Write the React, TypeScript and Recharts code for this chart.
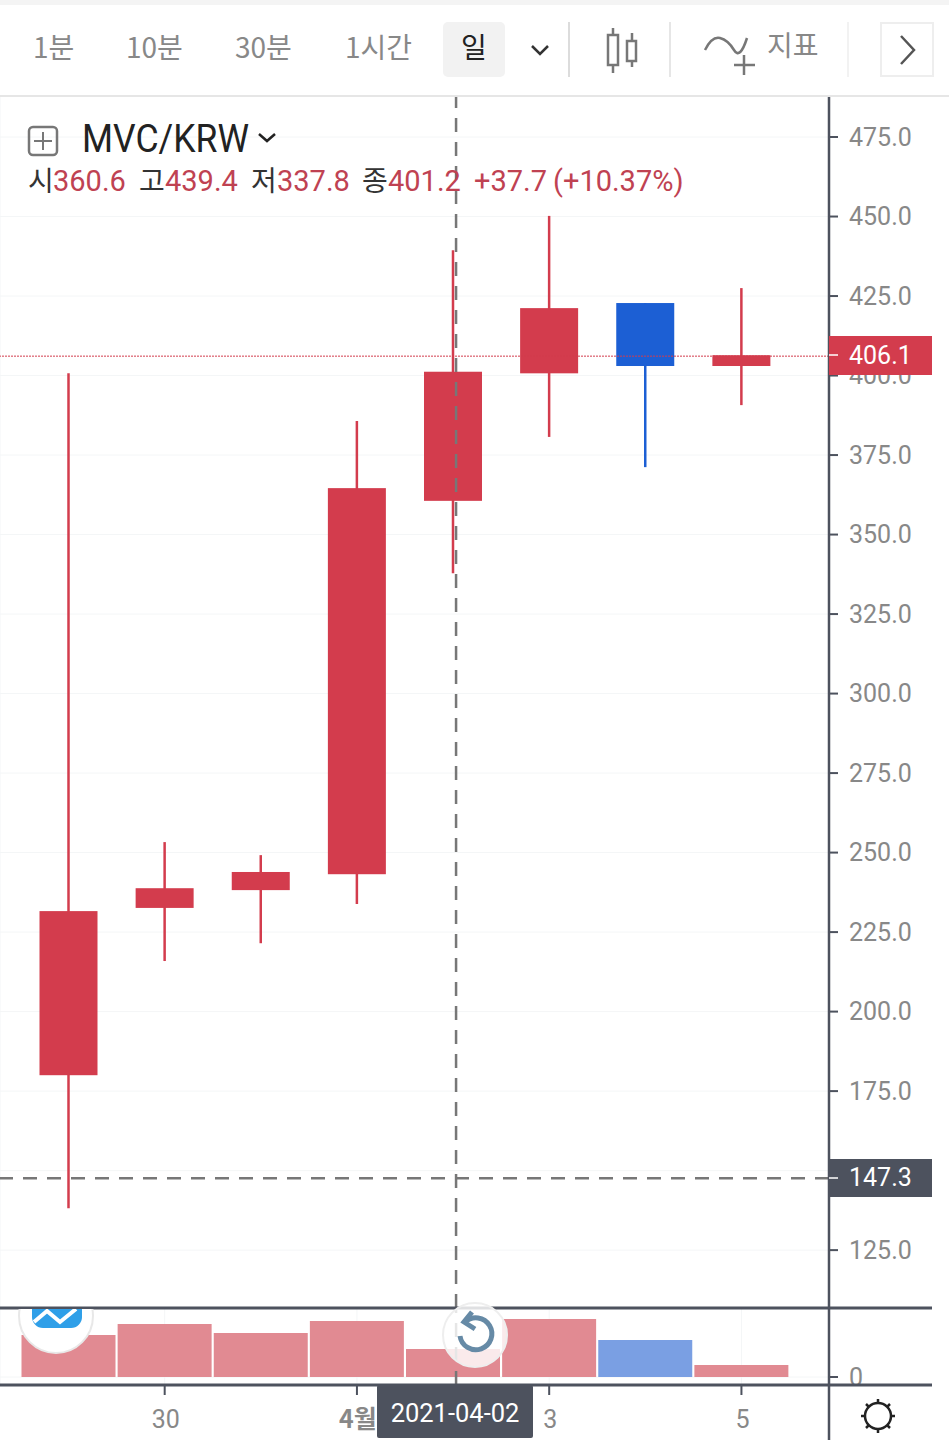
import { Bar, CartesianGrid, Cell, ComposedChart, ReferenceLine, XAxis, YAxis } from "recharts";

const DATES = ["03-29", "03-30", "03-31", "04-01", "04-02", "04-03", "04-04", "04-05"];
const OPENS = [180.0, 232.6, 238.2, 243.2, 360.6, 400.7, 422.8, 403.0];
const HIGHS = [400.7, 253.3, 249.2, 385.7, 439.4, 450.2, 422.8, 427.5];
const LOWS = [138.2, 215.9, 221.5, 233.8, 337.8, 380.7, 371.2, 390.7];
const CLOSES = [231.6, 238.8, 243.9, 364.6, 401.2, 421.2, 403.0, 406.4];
const VOLUMES = [42, 53, 44, 56, 28, 58, 37, 12];
const PRICE_TICKS = [125, 150, 175, 200, 225, 250, 275, 300, 325, 350, 375, 400, 425, 450, 475];
const DATE_TICKS = ["03-30", "04-01", "04-03", "04-05"];
const DATE_LABELS = ["30", "4월", "3", "5"];
const NAV_ITEMS = [
  { label: "1분", x: 33 },
  { label: "10분", x: 126 },
  { label: "30분", x: 235 },
  { label: "1시간", x: 345 },
];
const OHLC_LABELS = [
  { label: "시", value: "360.6", x: 28, vx: 53 },
  { label: "고", value: "439.4", x: 139, vx: 165 },
  { label: "저", value: "337.8", x: 251, vx: 277 },
  { label: "종", value: "401.2", x: 362, vx: 388 },
];

const RED = "#d33c4d";
const BLUE = "#1c5fd4";
const RED_SOFT = "#e18a92";
const BLUE_SOFT = "#7a9fe3";
const DARK = "#4d525e";
const GRAY = "#888888";
const GRID = "#f4f6f7";
const SANS = "Roboto, sans-serif";
const CJK = "'Noto Sans CJK KR', sans-serif";

const candles = DATES.map((date, i) => ({
  date,
  open: OPENS[i],
  high: HIGHS[i],
  low: LOWS[i],
  close: CLOSES[i],
  range: [LOWS[i], HIGHS[i]],
}));
const volumes = DATES.map((date, i) => ({ date, volume: VOLUMES[i], up: CLOSES[i] >= OPENS[i] }));

function Candle(props: any) {
  const { x, y, width, height, payload } = props;
  const unit = height / (payload.high - payload.low);
  const top = y + (payload.high - Math.max(payload.open, payload.close)) * unit;
  const bottom = y + (payload.high - Math.min(payload.open, payload.close)) * unit;
  const color = payload.close >= payload.open ? RED : BLUE;
  return (
    <g>
      <line x1={x + width / 2} x2={x + width / 2} y1={y} y2={y + height} stroke={color} strokeWidth={2.5} />
      <rect x={x} y={top} width={width} height={bottom - top} fill={color} />
    </g>
  );
}

function DateTick(props: any) {
  const { x, y, payload } = props;
  const label = DATE_LABELS[DATE_TICKS.indexOf(payload.value)];
  return (
    <text x={x + 1} y={y + 31} textAnchor="middle" fill={GRAY} fontSize={25} fontFamily={label === "4월" ? CJK : SANS} fontWeight={label === "4월" ? 700 : 400}>
      {label}
    </text>
  );
}

function Crosshair(props: any) {
  const { x1, y1, x2, y2 } = props;
  return <line x1={x1 + 3} x2={x2 + 3} y1={y1} y2={y2} stroke="#777" strokeWidth={2.5} strokeDasharray="14 10" />;
}

function ToolBar() {
  return (
    <g fontFamily={CJK} fontSize={28} fill={GRAY}>
      <rect x={0} y={0} width={949} height={5} fill="#f4f4f4" />
      <rect x={0} y={95} width={949} height={2} fill="#e6e6e6" />
      {NAV_ITEMS.map((item) => (
        <text key={item.label} x={item.x} y={58}>{item.label}</text>
      ))}
      <rect x={443} y={22} width={62} height={55} rx={5} fill="#f2f2f2" />
      <text x={474} y={58} textAnchor="middle" fill="#222">일</text>
      <polyline points="532,46 540,54 548,46" fill="none" stroke="#333" strokeWidth={2.5} />
      <line x1={569} x2={569} y1={22} y2={77} stroke="#dcdcdc" strokeWidth={2} />
      <line x1={670} x2={670} y1={22} y2={77} stroke="#e6e6e6" strokeWidth={2} />
      <g stroke="#777" strokeWidth={2.5} fill="none">
        <line x1={613} x2={613} y1={28} y2={73} />
        <rect x={608} y={35} width={10} height={30} fill="#fff" />
        <line x1={632} x2={632} y1={33} y2={67} />
        <rect x={627} y={41} width={9} height={20} fill="#fff" />
        <path d="M705 50 Q 712 36 720 38 T 734 50 T 747 38" />
        <line x1={744} x2={744} y1={55} y2={75} />
        <line x1={734} x2={755} y1={65} y2={65} />
      </g>
      <text x={767} y={56}>지표</text>
      <line x1={848} x2={848} y1={22} y2={77} stroke="#f2f2f2" strokeWidth={2} />
      <rect x={881} y={23} width={52} height={53} fill="#fff" stroke="#eeeeee" strokeWidth={2} />
      <polyline points="901,36 914,50 901,64" fill="none" stroke="#555" strokeWidth={2.5} />
    </g>
  );
}

function Legend() {
  return (
    <g>
      <rect x={29} y={127} width={28} height={28} rx={4} fill="none" stroke="#777" strokeWidth={2.5} />
      <line x1={43} x2={43} y1={132} y2={150} stroke="#777" strokeWidth={2} />
      <line x1={34} x2={52} y1={141} y2={141} stroke="#777" strokeWidth={2} />
      <text x={82} y={152} fontFamily={SANS} fontSize={38} fill="#222" textLength={167} lengthAdjust="spacingAndGlyphs">MVC/KRW</text>
      <polyline points="259,134 267,141 275,134" fill="none" stroke="#222" strokeWidth={2.5} />
      {OHLC_LABELS.map((item) => (
        <g key={item.label} fontSize={28}>
          <text x={item.x} y={191} fontFamily={CJK} fill="#333">{item.label}</text>
          <text x={item.vx} y={191} fontFamily={SANS} fontSize={29} fill="#bf4252">{item.value}</text>
        </g>
      ))}
      <text x={474} y={191} fontFamily={SANS} fontSize={29} fill="#bf4252">+37.7</text>
      <text x={553} y={191} fontFamily={SANS} fontSize={29} fill="#bf4252">(+10.37%)</text>
    </g>
  );
}

function PriceTags() {
  return (
    <g fontFamily={SANS} fontSize={25}>
      <rect x={829} y={336} width={103} height={39} fill={RED} />
      <line x1={829} x2={838} y1={355} y2={355} stroke="#fff" strokeWidth={1.5} />
      <text x={849} y={364} fill="#fff">406.1</text>
      <rect x={829} y={1159} width={103} height={38} fill={DARK} />
      <line x1={829} x2={838} y1={1178} y2={1178} stroke="#fff" strokeWidth={1.5} />
      <text x={849} y={1186} fill="#fff">147.3</text>
    </g>
  );
}

function Frame() {
  return (
    <g>
      <line x1={0} x2={932} y1={1308} y2={1308} stroke={DARK} strokeWidth={3} />
      <line x1={0} x2={932} y1={1385} y2={1385} stroke={DARK} strokeWidth={3} />
      <line x1={829} x2={829} y1={1308} y2={1440} stroke={DARK} strokeWidth={2.5} />
      <rect x={377} y={1385} width={156} height={53} rx={2} fill={DARK} />
      <text x={455} y={1422} textAnchor="middle" fontFamily={SANS} fontSize={25.5} fill="#fff">2021-04-02</text>
      <g stroke="#222" strokeWidth={2.5} fill="none">
        <circle cx={878} cy={1416} r={13} />
        <line x1={878} x2={878} y1={1399} y2={1403} />
        <line x1={878} x2={878} y1={1429} y2={1433} />
        <line x1={861} x2={865} y1={1416} y2={1416} />
        <line x1={891} x2={895} y1={1416} y2={1416} />
        <line x1={866} x2={869} y1={1404} y2={1407} />
        <line x1={890} x2={887} y1={1404} y2={1407} />
        <line x1={866} x2={869} y1={1428} y2={1425} />
        <line x1={890} x2={887} y1={1428} y2={1425} />
      </g>
    </g>
  );
}

function Buttons() {
  return (
    <g>
      <defs>
        <clipPath id="below-panel-top">
          <rect x={0} y={1309} width={829} height={80} />
        </clipPath>
      </defs>
      <g clipPath="url(#below-panel-top)">
        <circle cx={56} cy={1316} r={37} fill="#fff" stroke="#e8e8e8" strokeWidth={2} />
        <rect x={32} y={1296} width={50} height={32} rx={11} fill="#2f9fe8" />
        <polyline points="34,1322 47,1311 60,1322 76,1309" fill="none" stroke="#fff" strokeWidth={4} />
      </g>
      <circle cx={475} cy={1335} r={32} fill="#fff" fillOpacity={0.82} stroke="#eeeeee" strokeWidth={2} />
      <path d="M465 1322 A 16 16 0 1 1 460 1336" fill="none" stroke="#668aa6" strokeWidth={5} />
      <polyline points="472,1312 464,1322 475,1329" fill="none" stroke="#668aa6" strokeWidth={5} />
    </g>
  );
}

export default function App() {
  return (
    <div style={{ position: "absolute", left: 0, top: 0, width: 949, height: 1440, overflow: "hidden", background: "#fff" }}>
      <div style={{ position: "absolute", left: 0, top: 96 }}>
        <ComposedChart width={949} height={1212} data={candles} margin={{ top: 0, right: 0, bottom: 0, left: 0 }}>
          <CartesianGrid stroke={GRID} />
          <XAxis dataKey="date" ticks={DATE_TICKS} height={0} tick={false} axisLine={false} tickLine={false} padding={{ left: 20.5, right: 39.5 }} />
          <YAxis
            orientation="right"
            width={120}
            domain={[106.8, 487.9]}
            ticks={PRICE_TICKS}
            tickFormatter={(v: number) => v.toFixed(1)}
            stroke={DARK}
            axisLine={{ stroke: DARK, strokeWidth: 2.5 }}
            tickLine={{ stroke: DARK, strokeWidth: 2 }}
            tickSize={9}
            tickMargin={11}
            tick={{ fill: GRAY, fontSize: 25, fontFamily: SANS, textAnchor: "start" }}
            interval={0}
          />
          <Bar dataKey="range" barSize={58} shape={Candle} isAnimationActive={false} />
          <ReferenceLine y={406.1} stroke={RED} strokeWidth={1} strokeDasharray="2 1" />
          <ReferenceLine y={147.6} stroke="#777" strokeWidth={2.5} strokeDasharray="14 10" />
          <ReferenceLine x="04-02" shape={Crosshair} />
        </ComposedChart>
      </div>
      <div style={{ position: "absolute", left: 0, top: 1308 }}>
        <ComposedChart width={949} height={132} data={volumes} margin={{ top: 0, right: 0, bottom: 0, left: 0 }}>
          <CartesianGrid stroke={GRID} />
          <XAxis
            dataKey="date"
            ticks={DATE_TICKS}
            height={55}
            interval={0}
            axisLine={false}
            tickLine={{ stroke: DARK, strokeWidth: 2 }}
            tickSize={10}
            tick={DateTick}
            padding={{ left: 20.5, right: 39.5 }}
          />
          <YAxis
            orientation="right"
            width={120}
            domain={[-8, 69]}
            ticks={[0]}
            axisLine={false}
            tickLine={{ stroke: DARK, strokeWidth: 2 }}
            tickSize={9}
            tickMargin={11}
            tick={{ fill: GRAY, fontSize: 25, fontFamily: SANS, textAnchor: "start" }}
          />
          <Bar dataKey="volume" barSize={94} isAnimationActive={false}>
            {volumes.map((entry) => (
              <Cell key={entry.date} fill={entry.up ? RED_SOFT : BLUE_SOFT} />
            ))}
          </Bar>
          <ReferenceLine x="04-02" shape={Crosshair} />
        </ComposedChart>
      </div>
      <svg width={949} height={1440} style={{ position: "absolute", left: 0, top: 0, pointerEvents: "none" }}>
        <ToolBar />
        <Legend />
        <PriceTags />
        <Frame />
        <Buttons />
      </svg>
    </div>
  );
}
